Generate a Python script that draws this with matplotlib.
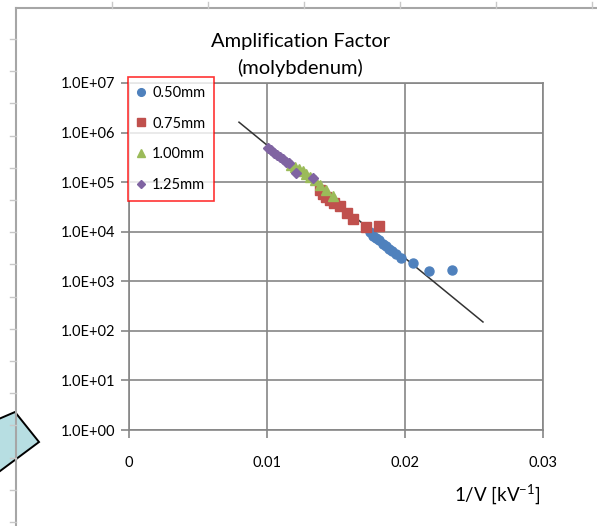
import numpy as np
import matplotlib
matplotlib.use('Agg')
import matplotlib.pyplot as plt
from matplotlib.lines import Line2D
from matplotlib.patches import Polygon

plt.rcParams['font.family'] = ['Lato', 'DejaVu Sans']
plt.rcParams['mathtext.default'] = 'regular'

# data
x_050 = [0.01746, 0.01768, 0.0179, 0.01812, 0.0184, 0.01862, 0.01884, 0.01906,
         0.01935, 0.01971, 0.02058, 0.02174, 0.0234]
y_050 = [9.8e3, 8.1e3, 7.4e3, 6.8e3, 5.6e3, 5.1e3, 4.5e3, 4.1e3,
         3.5e3, 2.9e3, 2.3e3, 1.6e3, 1.7e3]

x_075 = [0.01384, 0.01406, 0.01428, 0.01457, 0.01486, 0.01529, 0.0158,
         0.01623, 0.01717, 0.01812]
y_075 = [6.9e4, 5.7e4, 5.0e4, 4.4e4, 3.8e4, 3.3e4, 2.4e4, 1.8e4, 1.24e4, 1.3e4]

x_100 = [0.01174, 0.01203, 0.01232, 0.01261, 0.01283, 0.01312, 0.01348,
         0.01384, 0.01428, 0.01478]
y_100 = [2.2e5, 2.0e5, 1.8e5, 1.66e5, 1.45e5, 1.26e5, 1.1e5, 8.7e4, 6.9e4, 5.2e4]

x_125 = [0.01007, 0.01029, 0.01051, 0.01072, 0.01094, 0.01116, 0.01138,
         0.0116, 0.0121, 0.01333]
y_125 = [4.9e5, 4.4e5, 3.85e5, 3.5e5, 3.2e5, 2.9e5, 2.6e5, 2.4e5, 1.5e5, 1.2e5]

fit_x = [0.00797, 0.02565]
fit_y = [1.62e6, 1.51e2]

labels = ['0.50mm', '0.75mm', '1.00mm', '1.25mm']
colors = ['#4F81BD', '#C0504D', '#9BBB59', '#8064A2']
markers = ['o', 's', '^', 'D']
sizes = [6.5, 6.5, 7, 5]

x_ticks = [0, 0.01, 0.02, 0.03]
x_ticklabels = ['0', '0.01', '0.02', '0.03']
y_ticks = [1e0, 1e1, 1e2, 1e3, 1e4, 1e5, 1e6, 1e7]

W, H = 597, 526
fig = plt.figure(figsize=(W / 100, H / 100), dpi=100)


def fx(px):
    return px / W


def fy(py):
    return 1 - py / H


# chart area border (spreadsheet embedded chart)
grey = '#A6A6A6'
fig.add_artist(Line2D([fx(16), fx(16)], [fy(8), 0], color=grey, lw=1.5))
fig.add_artist(Line2D([fx(16), 1], [fy(8), fy(8)], color=grey, lw=1.5))
for px in [112, 208, 304, 400, 496, 592]:
    fig.add_artist(Line2D([fx(px), fx(px)], [fy(2), fy(8)], color='#C8C8C8', lw=1))
for py in np.arange(39, 526, 32.2):
    fig.add_artist(Line2D([fx(10), fx(16)], [fy(py), fy(py)], color='#C8C8C8', lw=1))

ax = fig.add_axes([fx(129), fy(430), fx(543) - fx(129), fy(83) - fy(430)])
ax.set_yscale('log')
ax.set_xlim(0, 0.03)
ax.set_ylim(1, 1e7)

gcol = '#868686'
ax.grid(True, color=gcol, lw=1.2)
ax.set_axisbelow(True)
for s in ax.spines.values():
    s.set_color(gcol)
    s.set_linewidth(1.2)

ax.set_xticks(x_ticks)
ax.set_xticklabels(x_ticklabels)
ax.set_yticks(y_ticks)
ax.set_yticklabels(['%.1E' % v for v in y_ticks])
ax.yaxis.set_minor_locator(matplotlib.ticker.NullLocator())
ax.tick_params(axis='both', which='major', direction='out', length=6,
               color=gcol, width=1.2, labelsize=10.5, labelcolor='black')
ax.tick_params(axis='x', pad=13)
ax.tick_params(axis='y', pad=4)

series = [(x_050, y_050), (x_075, y_075), (x_100, y_100), (x_125, y_125)]
for (xs, ys), lab, c, m, ms in zip(series, labels, colors, markers, sizes):
    ax.plot(xs, ys, ls='none', marker=m, ms=ms, color=c, mec=c, label=lab)

ax.plot(fit_x, fit_y, color='#333333', lw=1.1, zorder=1.5)

handles = [Line2D([], [], ls='none', marker=m, ms=ms * 0.85, color=c, mec=c)
           for c, m, ms in zip(colors, markers, sizes)]
leg = fig.legend(handles, labels, loc='upper left',
                 bbox_to_anchor=(fx(128), fy(77)), borderaxespad=0,
                 fontsize=10.5, frameon=True, fancybox=False,
                 handlelength=0.6, handletextpad=0.45, labelspacing=1.15,
                 borderpad=0.6)
leg.get_frame().set_edgecolor('#FF0000')
leg.get_frame().set_linewidth(1.2)

fig.text(fx(301), fy(41), 'Amplification Factor', ha='center', va='center', fontsize=14.5)
fig.text(fx(300), fy(68), '(molybdenum)', ha='center', va='center', fontsize=14.5)
fig.text(fx(497), fy(494), '1/V [kV$^{-1}$]', ha='center', va='center', fontsize=13.5)

# shape at lower left
pts = [(15, 412), (39, 442), (-20, 486), (-20, 427)]
fig.add_artist(Polygon([(fx(a), fy(b)) for a, b in pts], closed=True,
                       facecolor='#B7DEE2', edgecolor='black', lw=1.4))

fig.savefig('out.png', dpi=100)
